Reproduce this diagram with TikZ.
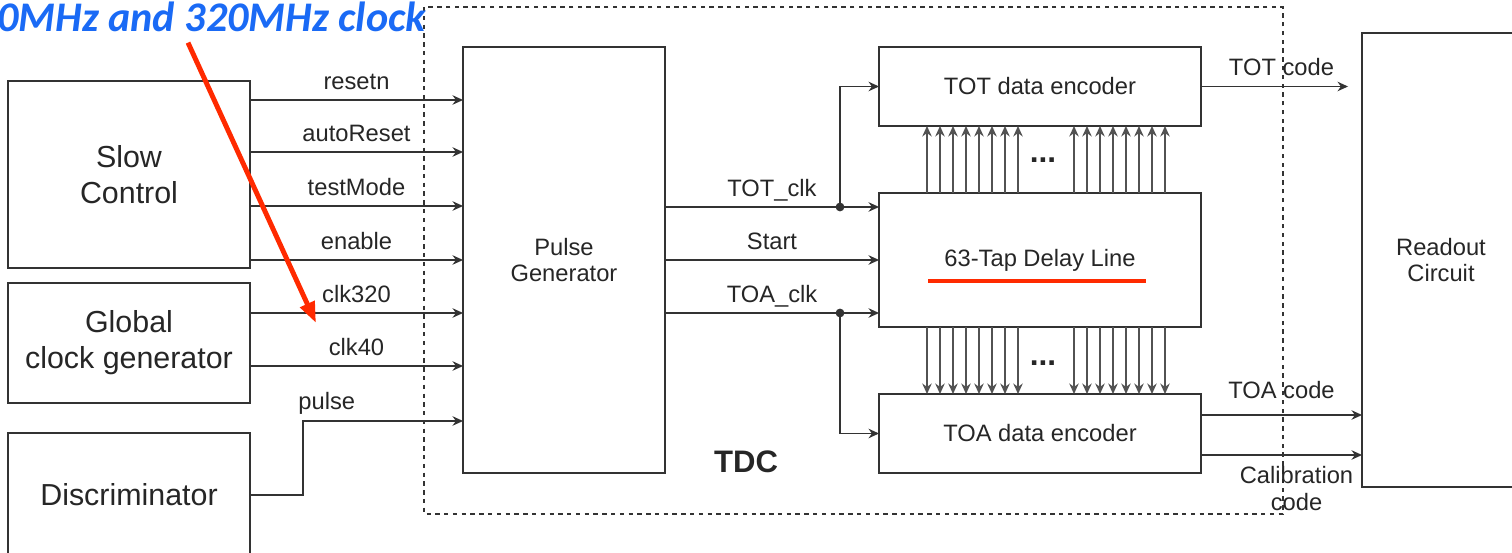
\documentclass[tikz,border=0pt]{standalone}
\usepackage{fontspec}
\setmainfont{Liberation Sans}
\newfontfamily\notefont{Carlito}
\usetikzlibrary{arrows.meta}
\definecolor{linecolor}{HTML}{333333}
\definecolor{notecolor}{HTML}{1A6AF5}
\definecolor{markcolor}{HTML}{FF2A00}
\tikzset{
  tdc box/.style={draw=linecolor,line width=.8pt,inner sep=0pt,outer sep=0pt,align=center,
    text=black!85,font=\fontsize{13.5}{15.3}\selectfont},
  tdc bigbox/.style={tdc box,font=\fontsize{17.3}{20.5}\selectfont},
  tdc sig/.style={linecolor,line width=.8pt,-{Stealth[length=2.1mm,width=1.9mm]}},
  tdc tap/.style={tdc sig,draw=linecolor!85},
  tdc label/.style={font=\fontsize{13.5}{15.3}\selectfont,text=black!85,inner sep=0pt,align=center},
  tdc over/.style={tdc label,anchor=base,yshift=6.2pt},
  tdc dot/.style={circle,fill=linecolor,inner sep=0pt,minimum size=5pt},
  tdc frame/.style={linecolor,line width=.7pt,dash pattern=on 2.5pt off 2.5pt},
  tdc mark/.style={markcolor,line width=2.4pt}
}
\begin{document}
\begin{tikzpicture}[x=0.02cm,y=-0.02cm]
  \useasboundingbox (0,0) rectangle (1512,553);
  % the TDC frame
  \draw[tdc frame] (424,7) rectangle (1283,514);
  \node[font=\fontsize{17.7}{20}\selectfont\bfseries,text=black!85] (tdcname) at (746,462) {TDC};
  % blocks
  \node[tdc bigbox,minimum width=4.84cm,minimum height=3.74cm] (slow) at (129,174.5) {Slow\\Control};
  \node[tdc bigbox,minimum width=4.84cm,minimum height=2.4cm] (clkgen) at (129,343) {Global\\clock generator};
  \node[tdc bigbox,minimum width=4.84cm,minimum height=2.48cm] (disc) at (129,495) {Discriminator};
  \node[tdc box,minimum width=4.04cm,minimum height=8.52cm] (pulsegen) at (564,260) {Pulse\\Generator};
  \node[tdc box,minimum width=6.44cm,minimum height=1.58cm] (tot) at (1040,86.5) {TOT data encoder};
  \node[tdc box,minimum width=6.44cm,minimum height=2.68cm] (dline) at (1040,260) {63-Tap Delay Line};
  \node[tdc box,minimum width=6.44cm,minimum height=1.58cm] (toa) at (1040,433.5) {TOA data encoder};
  \node[tdc box,minimum width=3.16cm,minimum height=9.08cm] (readout) at (1441,260) {Readout\\Circuit};
  % control and clock inputs
  \foreach \y/\txt in {100/resetn,152/autoReset,206/testMode,260/enable}
    \draw[tdc sig] (slow.east |- 0,\y) -- node[tdc over] {\txt} (pulsegen.west |- 0,\y);
  \foreach \y/\txt in {313/clk320,366/clk40}
    \draw[tdc sig] (clkgen.east |- 0,\y) -- node[tdc over] {\txt} (pulsegen.west |- 0,\y);
  \coordinate (pbend) at (303,421);
  \draw[tdc sig] (disc.east |- 0,495) -| (pbend) node[tdc label,anchor=base west,xshift=-3pt,yshift=6.5pt] {pulse}
    -- (pulsegen.west |- pbend);
  % pulse generator outputs
  \coordinate (totj) at (840,207);
  \coordinate (toaj) at (840,313);
  \draw[tdc sig] (pulsegen.east |- totj) -- node[tdc over] {TOT\_clk} (dline.west |- totj);
  \draw[tdc sig] (pulsegen.east) -- node[tdc over] {Start} (dline.west);
  \draw[tdc sig] (pulsegen.east |- toaj) -- node[tdc over] {TOA\_clk} (dline.west |- toaj);
  \draw[tdc sig] (totj) |- (tot.west);
  \draw[tdc sig] (toaj) |- (toa.west);
  \node[tdc dot] (totdot) at (totj) {};
  \node[tdc dot] (toadot) at (toaj) {};
  % taps
  \foreach \s in {927,1074}
    \foreach \i in {0,...,7}{
      \draw[tdc tap] ({\s+13*\i},0 |- dline.north) -- ({\s+13*\i},0 |- tot.south);
      \draw[tdc tap] ({\s+13*\i},0 |- dline.south) -- ({\s+13*\i},0 |- toa.north);
    }
  \node[font=\fontsize{18}{20}\selectfont\bfseries,text=black!85,inner sep=0pt] (updots) at (1043,160) {...};
  \node[font=\fontsize{18}{20}\selectfont\bfseries,text=black!85,inner sep=0pt] (downdots) at (1043,363) {...};
  % outputs to readout
  \draw[tdc sig,shorten >=0.28cm] (tot.east) -- node[tdc over] {TOT code} (readout.west |- tot.east);
  \draw[tdc sig] (toa.east |- 0,415) -- node[tdc over,yshift=3pt] {TOA code} (readout.west |- 0,415);
  \draw[tdc sig] (toa.east |- 0,455) -- node[tdc label,below,xshift=0.3cm,yshift=-6pt] {Calibration\\code} (readout.west |- 0,455);
  % annotation
  \draw[tdc mark] ([shift={(-112,21)}]dline.center) -- ([shift={(106,21)}]dline.center);
  \node[font=\notefont\fontsize{24}{28}\selectfont\bfseries\itshape,text=notecolor,anchor=base west,inner sep=0pt]
    (clocknote) at (-3,32) {0MHz and 320MHz clock};
  \coordinate (notetip) at (316,323);
  \draw[markcolor,line width=2.8pt,-{Triangle[length=0.42cm,width=0.3cm]}] (clocknote.south -| 188,0) ++(0,10) -- (notetip);
\end{tikzpicture}
\end{document}
